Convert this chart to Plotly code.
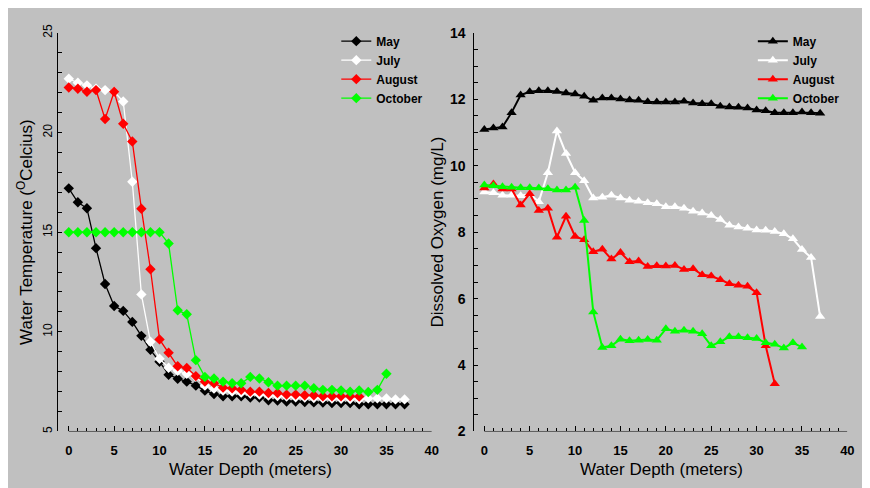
import plotly.graph_objects as go

# ---------------- data ----------------
depth_0_37 = [0, 1, 2, 3, 4, 5, 6, 7, 8, 9, 10, 11, 12, 13, 14, 15, 16, 17, 18, 19,
              20, 21, 22, 23, 24, 25, 26, 27, 28, 29, 30, 31, 32, 33, 34, 35, 36, 37]
depth_0_32 = [0, 1, 2, 3, 4, 5, 6, 7, 8, 9, 10, 11, 12, 13, 14, 15, 16, 17, 18, 19,
              20, 21, 22, 23, 24, 25, 26, 27, 28, 29, 30, 31, 32]
depth_0_35 = [0, 1, 2, 3, 4, 5, 6, 7, 8, 9, 10, 11, 12, 13, 14, 15, 16, 17, 18, 19,
              20, 21, 22, 23, 24, 25, 26, 27, 28, 29, 30, 31, 32, 33, 34, 35]

months = ["May", "July", "August", "October"]

temp_may = [17.2, 16.5, 16.2, 14.2, 12.4, 11.3, 11.05, 10.5, 9.8, 9.1, 8.5, 7.85, 7.65,
            7.5, 7.3, 7.05, 6.88, 6.77, 6.77, 6.77, 6.7, 6.7, 6.57, 6.55, 6.5, 6.5, 6.48,
            6.46, 6.45, 6.43, 6.43, 6.43, 6.37, 6.37, 6.37, 6.37, 6.37, 6.37]
temp_july = [22.7, 22.5, 22.37, 22.2, 22.13, 22.05, 21.56, 17.53, 11.88, 9.5, 8.65, 8.2,
             8.05, 7.9, 7.75, 7.3, 7.15, 7.05, 7.0, 6.95, 6.9, 6.85, 6.8, 6.78, 6.75, 6.72,
             6.7, 6.68, 6.66, 6.65, 6.64, 6.63, 6.62, 6.66, 6.66, 6.66, 6.61, 6.61]
temp_aug = [22.26, 22.2, 22.05, 22.13, 20.68, 22.05, 20.44, 19.55, 16.18, 13.14, 9.62,
            8.95, 8.27, 8.19, 7.78, 7.5, 7.42, 7.2, 7.17, 7.09, 7.0, 7.0, 6.93, 6.93, 6.85,
            6.85, 6.82, 6.82, 6.77, 6.77, 6.77, 6.77, 6.75]
temp_oct = [15.0, 15.0, 15.0, 15.0, 15.0, 15.0, 15.0, 15.0, 15.0, 15.0, 15.0, 14.43,
            11.08, 10.88, 8.58, 7.74, 7.66, 7.5, 7.42, 7.42, 7.74, 7.66, 7.47, 7.3, 7.3,
            7.3, 7.3, 7.17, 7.09, 7.09, 7.06, 7.0, 7.06, 6.98, 7.09, 7.9]

do_may = [11.09, 11.14, 11.17, 11.6, 12.13, 12.23, 12.26, 12.26, 12.24, 12.19, 12.16,
          12.09, 11.97, 12.04, 12.04, 12.01, 11.98, 11.97, 11.93, 11.92, 11.92, 11.92,
          11.94, 11.89, 11.87, 11.87, 11.79, 11.77, 11.76, 11.74, 11.68, 11.66, 11.6,
          11.6, 11.6, 11.62, 11.6, 11.58]
do_july = [9.21, 9.19, 9.11, 9.11, 9.1, 9.15, 8.92, 9.79, 11.05, 10.37, 9.79, 9.55, 9.03,
           9.05, 9.11, 9.03, 8.96, 8.93, 8.89, 8.86, 8.77, 8.77, 8.72, 8.63, 8.58, 8.5,
           8.38, 8.21, 8.16, 8.12, 8.07, 8.06, 8.02, 7.95, 7.8, 7.48, 7.24, 5.46]
do_aug = [9.33, 9.45, 9.3, 9.3, 8.82, 9.16, 8.65, 8.72, 7.85, 8.48, 7.87, 7.77, 7.41,
          7.49, 7.19, 7.39, 7.11, 7.13, 6.97, 6.99, 6.98, 7.0, 6.88, 6.9, 6.72, 6.68,
          6.57, 6.45, 6.4, 6.37, 6.18, 4.58, 3.44]
do_oct = [9.42, 9.4, 9.37, 9.35, 9.34, 9.34, 9.33, 9.31, 9.27, 9.27, 9.35, 8.35, 5.6,
          4.53, 4.58, 4.78, 4.73, 4.75, 4.77, 4.75, 5.09, 5.02, 5.05, 5.02, 4.94, 4.58,
          4.7, 4.85, 4.85, 4.82, 4.8, 4.67, 4.63, 4.51, 4.67, 4.54]

x_ticks = [0, 5, 10, 15, 20, 25, 30, 35, 40]
x_minor = list(range(0, 41))

x_title = "Water Depth (meters)"
y_title_left = "Water Temperature (<sup>O</sup>Celcius)"
y_title_right = "Dissolved Oxygen (mg/L)"

colors = ["#000000", "#FFFFFF", "#FF0000", "#00FF00"]
FONT = "Liberation Sans"
BG = "#C0C0C0"

fig = go.Figure()

left_series = [(depth_0_37, temp_may), (depth_0_37, temp_july),
               (depth_0_32, temp_aug), (depth_0_35, temp_oct)]
right_series = [(depth_0_37, do_may), (depth_0_37, do_july),
                (depth_0_32, do_aug), (depth_0_35, do_oct)]

for name, col, (d, v) in zip(months, colors, left_series):
    fig.add_trace(go.Scatter(
        x=d, y=v, name=name, mode="lines+markers",
        line=dict(color=col, width=1.3),
        marker=dict(symbol="diamond", size=8, color=col),
        xaxis="x", yaxis="y", legend="legend"))

for name, col, (d, v) in zip(months, colors, right_series):
    fig.add_trace(go.Scatter(
        x=d, y=v, name=name, mode="lines+markers",
        line=dict(color=col, width=2),
        marker=dict(symbol="triangle-up", size=9, color=col),
        xaxis="x2", yaxis="y2", legend="legend2"))

# the page places the figure at an 8px offset; positions below are screen px - 8
W, H = 854, 480
OFF = 8


def px(xs):
    return (xs - OFF) / W


def py(ys):
    return 1 - (ys - OFF) / H


yd = [py(437.7), py(24.5)]

common_x = dict(
    showline=False, showgrid=False, zeroline=False,
    tickmode="array", tickvals=x_ticks, ticks="inside", ticklen=5, tickwidth=1,
    tickcolor="black",
    minor=dict(tickmode="array", tickvals=x_minor, ticks="inside", ticklen=3,
               tickwidth=1, tickcolor="black"),
)

title_font = dict(family=FONT, size=17, color="black")

fig.update_layout(
    width=W, height=H,
    paper_bgcolor=BG, plot_bgcolor=BG,
    margin=dict(l=0, r=0, t=0, b=0),
    showlegend=True,
    xaxis=dict(common_x, domain=[px(58.3), px(435.3)], range=[-1.2, 40], anchor="y",
               tickfont=dict(family=FONT, size=13, color="black", weight="bold"),
               ticklabelstandoff=10),
    yaxis=dict(domain=yd, range=[5, 25], anchor="x",
               showline=True, linecolor="black", linewidth=1, showgrid=False, zeroline=False,
               tickmode="array", tickvals=[5, 10, 15, 20, 25], ticks="inside", ticklen=4,
               tickcolor="black", tickangle=-90,
               minor=dict(tickmode="array", tickvals=list(range(5, 26)), ticks="inside",
                          ticklen=4, tickcolor="black"),
               tickfont=dict(family=FONT, size=12, color="black")),
    xaxis2=dict(common_x, domain=[px(478.3), px(854.3)], range=[-1.09, 40], anchor="y2",
                tickfont=dict(family=FONT, size=13, color="black", weight="bold"),
                ticklabelstandoff=10),
    yaxis2=dict(domain=yd, range=[2, 14], anchor="x2",
                showline=True, linecolor="black", linewidth=1, showgrid=False, zeroline=False,
                tickmode="array", tickvals=[2, 4, 6, 8, 10, 12, 14], ticks="inside", ticklen=4,
                tickcolor="black", ticklabelstandoff=5,
                minor=dict(tickmode="array",
                           tickvals=[2 + 0.5 * i for i in range(25)],
                           ticks="inside", ticklen=4, tickcolor="black"),
                tickfont=dict(family=FONT, size=14, color="black", weight="bold")),
    legend=dict(x=331 / W, y=1 - 10 / H, xanchor="left", yanchor="top",
                bgcolor="rgba(0,0,0,0)", itemwidth=30,
                font=dict(family=FONT, size=12, color="black", weight="bold")),
    legend2=dict(x=751 / W, y=1 - 10 / H, xanchor="left", yanchor="top",
                 bgcolor="rgba(0,0,0,0)", itemwidth=30,
                 font=dict(family=FONT, size=12, color="black", weight="bold")),
    shapes=[
        dict(type="line", xref="x", yref="y", x0=0, x1=40, y0=5, y1=5,
             line=dict(color="black", width=1)),
        dict(type="line", xref="x2", yref="y2", x0=0, x1=40, y0=2, y1=2,
             line=dict(color="black", width=1)),
    ],
    annotations=[
        dict(text=x_title, xref="paper", yref="paper", x=px(252), y=py(477),
             xanchor="center", yanchor="middle", showarrow=False, font=title_font),
        dict(text=x_title, xref="paper", yref="paper", x=px(667), y=py(477),
             xanchor="center", yanchor="middle", showarrow=False, font=title_font),
        dict(text=y_title_left, xref="paper", yref="paper", x=px(25), y=py(231),
             xanchor="center", yanchor="middle", showarrow=False, textangle=-90,
             font=title_font),
        dict(text=y_title_right, xref="paper", yref="paper", x=px(441), y=py(231),
             xanchor="center", yanchor="middle", showarrow=False, textangle=-90,
             font=title_font),
    ],
)

fig.write_html("out.html")
